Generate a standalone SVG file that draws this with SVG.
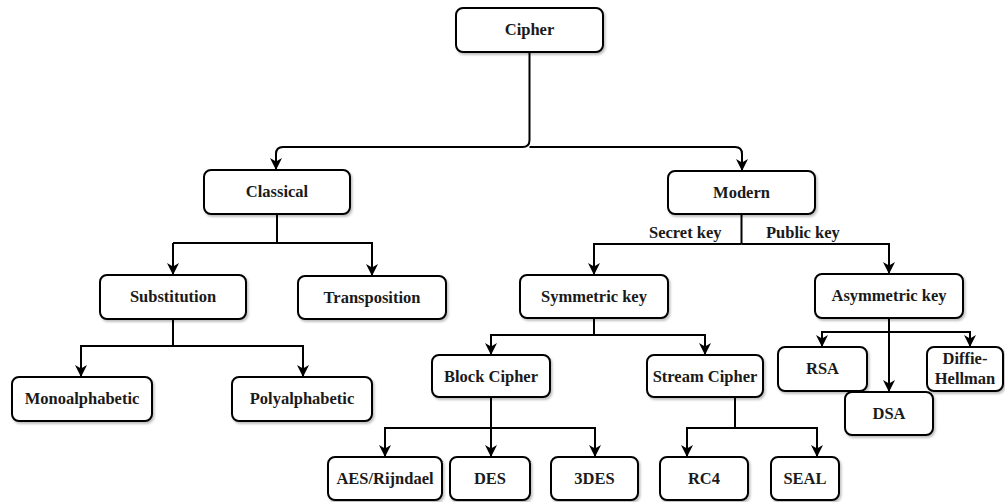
<svg xmlns="http://www.w3.org/2000/svg" width="1005" height="502" viewBox="0 0 1005 502">
<style>
.box{fill:#fff;stroke:#000;stroke-width:2;filter:url(#sh)}
.t{font-family:"Liberation Serif","Times New Roman",serif;font-weight:bold;font-size:16.5px;fill:#1a1a1a;text-anchor:middle}
.lbl{font-family:"Liberation Serif","Times New Roman",serif;font-weight:bold;font-size:16.5px;fill:#1a1a1a}
.c{fill:none;stroke:#000;stroke-width:2}
.a{marker-end:url(#ar)}
</style>
<defs>
<filter id="sh" x="-10%" y="-10%" width="130%" height="140%"><feDropShadow dx="1.5" dy="2" stdDeviation="1.2" flood-color="#000" flood-opacity="0.25"/></filter>
<marker id="ar" viewBox="0 0 10 10" refX="10" refY="5" markerWidth="12" markerHeight="12" markerUnits="userSpaceOnUse" orient="auto"><path d="M0,0 L10,5 L0,10 L3,5 z" fill="#000"/></marker>
</defs>
<g id="connectors">
<path class="c a" d="M529.5,52 V140 Q529.5,147 522.5,147 H283 Q276,147 276,154 V170"/>
<path class="c a" d="M529.5,147 H735 Q742,147 742,154 V171"/>
<path class="c" d="M277,214 V243"/>
<path class="c a" d="M173,243 V275"/>
<path class="c a" d="M173,243 H372 V276"/>
<path class="c" d="M173,319 V346"/>
<path class="c a" d="M173,346 H81 V377"/>
<path class="c a" d="M173,346 H303 V377"/>
<path class="c" d="M741.5,214 V244"/>
<path class="c a" d="M741.5,244 H594 V275"/>
<path class="c a" d="M741.5,244 H889 V274"/>
<path class="c" d="M594,318 V335"/>
<path class="c a" d="M594,335 H491 V355"/>
<path class="c a" d="M594,335 H705 V355"/>
<path class="c" d="M491,397 V428"/>
<path class="c a" d="M491,428 H385 V457"/>
<path class="c a" d="M491,428 V457"/>
<path class="c a" d="M491,428 H595 V457"/>
<path class="c" d="M735,397 V428"/>
<path class="c a" d="M735,428 H687 V457"/>
<path class="c a" d="M735,428 H817 V457"/>
<path class="c a" d="M889,318 V392"/>
<path class="c a" d="M889,332 H822 V347"/>
<path class="c a" d="M889,332 H970 V347"/>
<text class="lbl" x="649" y="238">Secret key</text>
<text class="lbl" x="766" y="238">Public key</text>
</g>
<g id="cipher"><rect class="box" x="456" y="8" width="147" height="44" rx="7"/><text class="t" x="529.5" y="35">Cipher</text></g>
<g id="classical"><rect class="box" x="204" y="170" width="146" height="44" rx="7"/><text class="t" x="277" y="197">Classical</text></g>
<g id="modern"><rect class="box" x="668" y="171" width="147" height="43" rx="7"/><text class="t" x="741.5" y="197.5">Modern</text></g>
<g id="substitution"><rect class="box" x="100" y="275" width="146" height="44" rx="7"/><text class="t" x="173" y="302">Substitution</text></g>
<g id="transposition"><rect class="box" x="298" y="276" width="148" height="43" rx="7"/><text class="t" x="372" y="303">Transposition</text></g>
<g id="monoalphabetic"><rect class="box" x="12" y="377" width="140" height="44" rx="7"/><text class="t" x="82" y="404">Monoalphabetic</text></g>
<g id="polyalphabetic"><rect class="box" x="232" y="377" width="140" height="44" rx="7"/><text class="t" x="302" y="404">Polyalphabetic</text></g>
<g id="symmetric"><rect class="box" x="520" y="275" width="148" height="43" rx="7"/><text class="t" x="594" y="302">Symmetric key</text></g>
<g id="asymmetric"><rect class="box" x="815" y="274" width="148" height="44" rx="7"/><text class="t" x="889" y="301">Asymmetric key</text></g>
<g id="block"><rect class="box" x="432" y="355" width="118" height="42" rx="7"/><text class="t" x="491" y="382">Block Cipher</text></g>
<g id="stream"><rect class="box" x="647" y="355" width="116" height="42" rx="7"/><text class="t" x="705" y="382">Stream Cipher</text></g>
<g id="aes"><rect class="box" x="328" y="457" width="114" height="43" rx="7"/><text class="t" x="385" y="484">AES/Rijndael</text></g>
<g id="des"><rect class="box" x="450" y="457" width="80" height="43" rx="7"/><text class="t" x="490" y="484">DES</text></g>
<g id="tdes"><rect class="box" x="551" y="457" width="87" height="43" rx="7"/><text class="t" x="594.5" y="484">3DES</text></g>
<g id="rc4"><rect class="box" x="660" y="457" width="88" height="43" rx="7"/><text class="t" x="704" y="484">RC4</text></g>
<g id="seal"><rect class="box" x="771" y="457" width="68" height="43" rx="7"/><text class="t" x="805" y="484">SEAL</text></g>
<g id="rsa"><rect class="box" x="778" y="347" width="89" height="44" rx="7"/><text class="t" x="822.5" y="374">RSA</text></g>
<g id="diffie"><rect class="box" x="927" y="347" width="76" height="44" rx="7"/><text class="t" x="965" y="364">Diffie-</text><text class="t" x="965" y="384">Hellman</text></g>
<g id="dsa"><rect class="box" x="845" y="392" width="88" height="43" rx="7"/><text class="t" x="889" y="419">DSA</text></g>
</svg>
